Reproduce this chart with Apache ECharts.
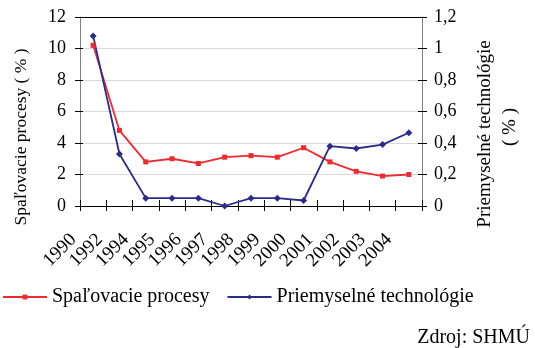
<!DOCTYPE html>
<html>
<head>
<meta charset="utf-8">
<script src="https://cdn.jsdelivr.net/npm/echarts@6/dist/echarts.min.js"></script>
<style>
  html, body { margin: 0; padding: 0; background: #fff; }
  #chart { width: 535px; height: 348px; }
</style>
</head>
<body>
<div id="chart"></div>
<script>
// Emission shares by source sector, 1990–2004
const years = ['1990', '1992', '1994', '1995', '1996', '1997', '1998', '1999', '2000', '2001', '2002', '2003', '2004'];
const combustion = [10.2, 4.8, 2.8, 3.0, 2.7, 3.1, 3.2, 3.1, 3.7, 2.8, 2.2, 1.9, 2.0];
const industry = [1.08, 0.33, 0.05, 0.05, 0.05, 0.0, 0.05, 0.05, 0.035, 0.38, 0.365, 0.39, 0.465];
const leftTicks = { min: 0, max: 12, interval: 2 };
const rightTicks = { min: 0, max: 1.2, interval: 0.2 };
const seriesNames = ['Spaľovacie procesy', 'Priemyselné technológie'];
const leftTitle = 'Spaľovacie procesy ( % )';
const rightTitle = ['Priemyselné technológie', '( % )'];
const sourceNote = 'Zdroj: SHMÚ';

const FONT = '"Liberation Serif", "DejaVu Serif", serif';
const chart = echarts.init(document.getElementById('chart'), null, { renderer: 'canvas' });

const commaFmt = v => String(+v.toFixed(1)).replace('.', ',');

// vertical axis title, reading bottom to top
const vText = (text, x, y, size) => ({
  type: 'text', x: x, y: y, rotation: Math.PI / 2,
  style: { text: text, font: size + 'px ' + FONT, fill: '#000', align: 'center', verticalAlign: 'middle' }
});

chart.setOption({
  animation: false,
  backgroundColor: '#fff',
  grid: { left: 80, right: 113, top: 17, bottom: 142, containLabel: false },
  xAxis: [
    {
      type: 'category', data: years, position: 'bottom', boundaryGap: true,
      axisLine: { show: true, lineStyle: { color: '#000', width: 1 } },
      axisTick: { show: true, inside: false, length: 5, interval: 0, lineStyle: { color: '#000' } },
      axisLabel: {
        show: true, interval: 0, rotate: 45, margin: 11,
        fontFamily: FONT, fontSize: 19, color: '#000',
        padding: [0, 28, 0, 0]
      },
      splitLine: { show: false }
    },
    {
      type: 'category', data: years, position: 'bottom', boundaryGap: true,
      axisLine: { show: false },
      axisTick: { show: true, inside: true, length: 6, interval: 0, lineStyle: { color: '#000' } },
      axisLabel: { show: false },
      splitLine: { show: false }
    }
  ],
  yAxis: [
    {
      type: 'value', position: 'left', ...leftTicks,
      axisLine: { show: true, lineStyle: { color: '#808080', width: 1 } },
      axisTick: { show: true, inside: false, length: 5, lineStyle: { color: '#000' } },
      axisLabel: { fontFamily: FONT, fontSize: 18, color: '#000', margin: 14 },
      splitLine: {
        show: true,
        lineStyle: { color: ['#d9d9d9', '#d9d9d9', '#d9d9d9', '#d9d9d9', '#d9d9d9', '#d9d9d9', '#000'], width: 1 }
      }
    },
    {
      type: 'value', position: 'right', ...rightTicks,
      axisLine: { show: true, lineStyle: { color: '#808080', width: 1 } },
      axisTick: { show: true, inside: false, length: 5, lineStyle: { color: '#000' } },
      axisLabel: { fontFamily: FONT, fontSize: 18, color: '#000', margin: 12, formatter: commaFmt },
      splitLine: { show: false }
    },
    {
      type: 'value', position: 'left', ...leftTicks,
      axisLine: { show: false },
      axisTick: { show: true, inside: true, length: 3, lineStyle: { color: '#000' } },
      axisLabel: { show: false },
      splitLine: { show: false }
    },
    {
      type: 'value', position: 'right', ...rightTicks,
      axisLine: { show: false },
      axisTick: { show: true, inside: true, length: 4, lineStyle: { color: '#000' } },
      axisLabel: { show: false },
      splitLine: { show: false }
    }
  ],
  legend: {
    left: 2, top: 287, padding: 0, itemWidth: 44, itemHeight: 6, itemGap: 17,
    textStyle: { fontFamily: FONT, fontSize: 20, color: '#000' },
    data: seriesNames
  },
  series: [
    {
      name: seriesNames[0], type: 'line', data: combustion,
      xAxisIndex: 0, yAxisIndex: 0,
      symbol: 'rect', symbolSize: 5,
      lineStyle: { color: '#ee2a2e', width: 1.8 },
      itemStyle: { color: '#ee2a2e' }
    },
    {
      name: seriesNames[1], type: 'line', data: industry,
      xAxisIndex: 0, yAxisIndex: 1,
      symbol: 'diamond', symbolSize: 7,
      lineStyle: { color: '#2b2b8c', width: 1.8 },
      itemStyle: { color: '#2b2b8c' }
    }
  ],
  graphic: [
    vText(leftTitle, 21, 137, 17.5),
    vText(rightTitle[0], 485, 134, 19),
    vText(rightTitle[1], 510, 127, 19),
    {
      type: 'text', right: 5, top: 328,
      style: { text: sourceNote, font: '20px ' + FONT, fill: '#000' }
    }
  ]
});
</script>
</body>
</html>
